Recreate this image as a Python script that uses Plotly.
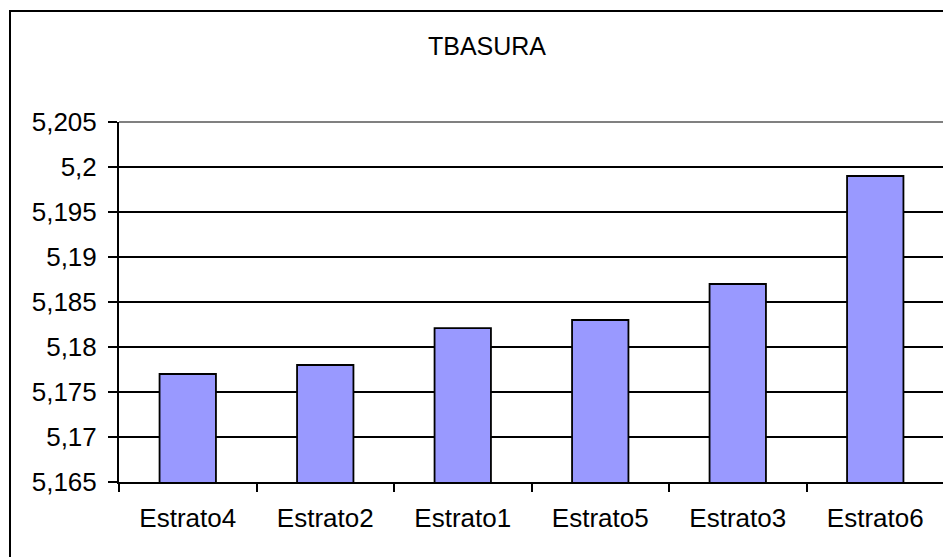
import plotly.graph_objects as go

# data
categories = ["Estrato4", "Estrato2", "Estrato1", "Estrato5", "Estrato3", "Estrato6"]
values = [5.177, 5.178, 5.1821, 5.183, 5.187, 5.199]
y_ticks = [5.165, 5.17, 5.175, 5.18, 5.185, 5.19, 5.195, 5.2, 5.205]
y_labels = ["5,165", "5,17", "5,175", "5,18", "5,185", "5,19", "5,195", "5,2", "5,205"]

font_family = "Liberation Sans, Arial, sans-serif"

fig = go.Figure(
    go.Bar(
        x=categories,
        y=values,
        marker=dict(color="#9999FF", line=dict(color="black", width=1.8)),
    )
)

# the page body adds an 8px margin, so the figure is 8px smaller and shifted
fig.update_layout(
    width=943,
    height=549,
    margin=dict(l=111, r=7, t=114, b=75),
    paper_bgcolor="white",
    plot_bgcolor="white",
    bargap=0.59,
    showlegend=False,
    font=dict(family=font_family, size=26, color="black"),
    title=dict(
        text="TBASURA",
        xref="container", yref="container",
        x=479 / 943, y=1 - 38 / 549,
        xanchor="center", yanchor="middle",
        font=dict(family=font_family, size=25, color="black"),
    ),
)

fig.update_yaxes(
    range=[5.165, 5.205],
    tickvals=y_ticks,
    ticktext=y_labels,
    showgrid=True,
    gridcolor="black",
    gridwidth=1.8,
    zeroline=False,
    showline=True,
    linecolor="black",
    linewidth=2,
    ticks="outside",
    ticklen=9,
    tickcolor="black",
    tickwidth=1.5,
    ticklabelstandoff=6,
)

fig.update_xaxes(
    showgrid=False,
    showline=True,
    linecolor="black",
    linewidth=2,
    ticks="outside",
    tickson="boundaries",
    ticklen=8,
    tickcolor="black",
    tickwidth=1.5,
    ticklabelstandoff=12,
)

# gray top and right border of the plot area
fig.add_shape(type="line", xref="paper", yref="paper", x0=0, x1=1, y0=1, y1=1,
              line=dict(color="#808080", width=2), layer="above")
fig.add_shape(type="line", xref="paper", yref="paper", x0=1, x1=1, y0=0, y1=1,
              line=dict(color="#808080", width=2), layer="above")

# outer chart frame (runs off the right and bottom edge)
fig.add_shape(type="rect", xref="paper", yref="paper",
              x0=(2 - 111) / 825, x1=1.5, y0=-1, y1=(474 - 3) / 360,
              line=dict(color="black", width=2), fillcolor="rgba(0,0,0,0)", layer="below")

fig.write_html("out.html")
